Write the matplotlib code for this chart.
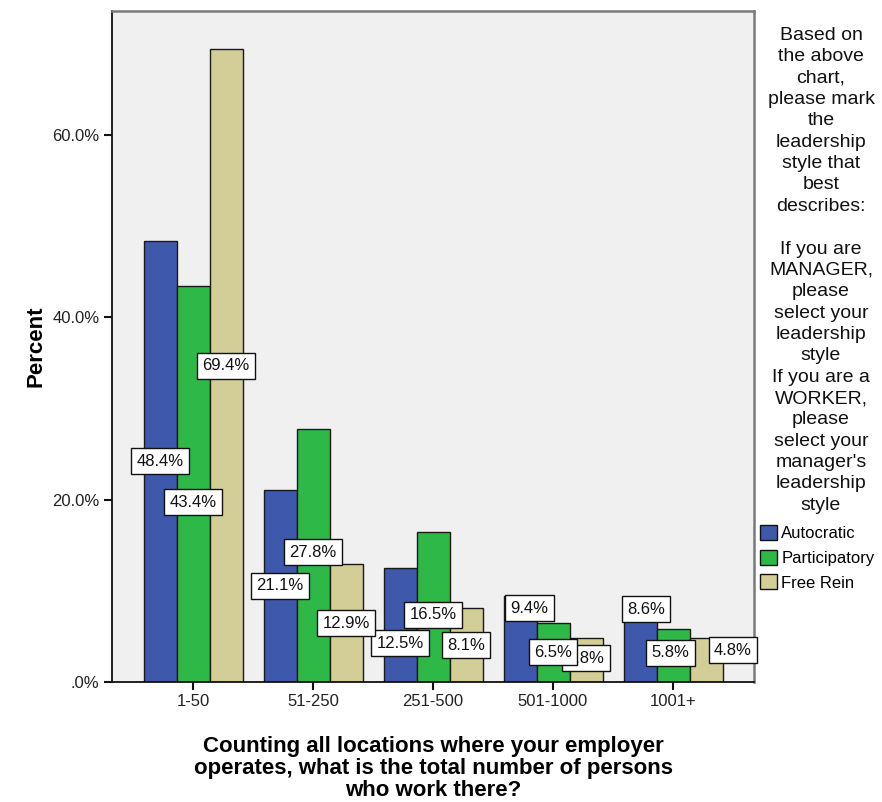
import numpy as np
import matplotlib
matplotlib.use("Agg")
import matplotlib.pyplot as plt
from matplotlib.ticker import FuncFormatter
from matplotlib.patches import Patch

plt.rcParams['font.family'] = ['Liberation Sans', 'DejaVu Sans']

# Data (percent of respondents within each leadership style)
categories = ["1-50", "51-250", "251-500", "501-1000", "1001+"]
series_names = ["Autocratic", "Participatory", "Free Rein"]
autocratic = [48.4, 21.1, 12.5, 9.4, 8.6]
participatory = [43.4, 27.8, 16.5, 6.5, 5.8]
free_rein = [69.4, 12.9, 8.1, 4.8, 4.8]
y_ticks = [0, 20, 40, 60]

legend_title = ("Based on\nthe above\nchart,\nplease mark\nthe\nleadership\nstyle that\nbest\ndescribes:\n\n"
                "If you are\nMANAGER,\nplease\nselect your\nleadership\nstyle\nIf you are a\nWORKER,\nplease\n"
                "select your\nmanager's\nleadership\nstyle")
x_title = "Counting all locations where your employer\noperates, what is the total number of persons\nwho work there?"

colors = ["#3E58AC", "#2EB848", "#D3CE97"]
values = [autocratic, participatory, free_rein]

# label nudges: (x in category units, y in percent points) relative to bar mid-height
nudges = [
    [(0, 0), (0, 0), (0, -2.0), (0.075, 3.4), (0.05, 3.7)],
    [(0, -2.0), (0, 0.35), (0, -0.9), (0, 0), (-0.02, 0.3)],
    [(0, 0), (0, 0), (0, 0), (0, 0.2), (0.225, 1.1)],
]

fig = plt.figure(figsize=(8.82, 8.02), dpi=100)
ax = fig.add_axes([112 / 882, 1 - 682 / 802, (754 - 112) / 882, (682 - 11) / 802])
ax.set_facecolor("#F0F0F0")

x = np.arange(len(categories))
width = 0.275
offsets = [-width, 0, width]

for vals, col, off in zip(values, colors, offsets):
    ax.bar(x + off, vals, width=width, color=col, edgecolor="#1a1a1a", linewidth=1.0, zorder=2)

label_order = [0, 2, 1]
for si in label_order:
    vals = values[si]
    for ci, v in enumerate(vals):
        dx, dy = nudges[si][ci]
        ax.text(x[ci] + offsets[si] + dx, v / 2 + dy, f"{v:.1f}%",
                ha="center", va="center", fontsize=12, color="#111111", zorder=5,
                bbox=dict(boxstyle="square,pad=0.33", facecolor="white", edgecolor="#111111", linewidth=1.0))

ax.set_xlim(-0.675, 4.675)
ax.set_ylim(0, 73.6)
ax.set_xticks(x)
ax.set_xticklabels(categories)
ax.set_yticks(y_ticks)
ax.yaxis.set_major_formatter(FuncFormatter(lambda v, p: ".0%" if v == 0 else f"{v:.1f}%"))
ax.tick_params(axis="both", direction="out", length=6, width=1.5, labelsize=12,
               labelcolor="#222222", color="#111111", pad=3)

for side in ["left", "bottom"]:
    ax.spines[side].set_color("#111111")
    ax.spines[side].set_linewidth(1.3)
for side in ["top", "right"]:
    ax.spines[side].set_color("#7a7a7a")
    ax.spines[side].set_linewidth(1.8)

ax.set_ylabel("Percent", fontsize=16, fontweight="bold", labelpad=4)
ax.set_xlabel(x_title, fontsize=16, fontweight="bold", linespacing=1.06, labelpad=19)

fig.text(821 / 882, 1 - 27 / 802, legend_title, ha="center", va="top",
         fontsize=14, color="#111111", linespacing=1.335)

handles = [Patch(facecolor=c, edgecolor="#111111", linewidth=1.0) for c in colors]
fig.legend(handles, series_names, loc="upper left", bbox_to_anchor=(757 / 882, 1 - 522 / 802),
           frameon=False, fontsize=12, handlelength=1.0, handleheight=1.0,
           handletextpad=0.25, labelspacing=0.5, borderaxespad=0, borderpad=0.2)

fig.savefig("out.png", dpi=100, facecolor="white")
